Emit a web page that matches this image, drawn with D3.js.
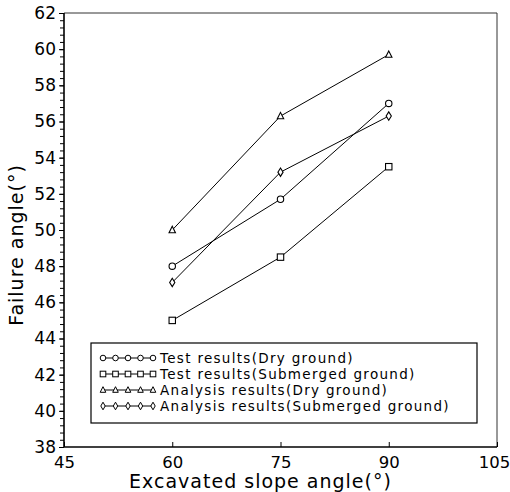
<!DOCTYPE html>
<html>
<head>
<meta charset="utf-8">
<script src="https://cdn.jsdelivr.net/npm/d3@7"></script>
<style>
  body { margin: 0; background: #fff; }
  svg { display: block; font-family: "DejaVu Sans", sans-serif; }
</style>
</head>
<body>
<div class="svg-container"></div>
<script>
// Data
var slopeAngles = [60, 75, 90];
var testDry = [48.0, 51.7, 57.0];
var testSubmerged = [45.0, 48.5, 53.5];
var analysisDry = [50.0, 56.3, 59.7];
var analysisSubmerged = [47.1, 53.2, 56.3];

var seriesNames = [
    "Test results(Dry ground)",
    "Test results(Submerged ground)",
    "Analysis results(Dry ground)",
    "Analysis results(Submerged ground)"
];
var seriesValues = [testDry, testSubmerged, analysisDry, analysisSubmerged];
var seriesMarkers = ["circle", "square", "triangle", "diamond"];

var xTicks = [45, 60, 75, 90, 105];
var yTicks = [38, 40, 42, 44, 46, 48, 50, 52, 54, 56, 58, 60, 62];

var W = 510, H = 492;
var margin = {top: 13, right: 13, bottom: 45, left: 64},
    width = W - margin.left - margin.right,
    height = H - margin.top - margin.bottom;

var svg = d3.select(".svg-container").append("svg")
    .attr("width", W)
    .attr("height", H);

var g = svg.append("g")
    .attr("transform", "translate(" + margin.left + "," + margin.top + ")");

// Scales
var xScale = d3.scaleLinear().domain([45, 105]).range([0, width]);
var yScale = d3.scaleLinear().domain([38, 62]).range([height, 0]);

// Frame (top and right)
g.append("path")
    .attr("d", "M0,0H" + width + "V" + height)
    .attr("fill", "none")
    .attr("stroke", "#333")
    .attr("stroke-width", 1);

// Y axis: minor ticks
var yMinor = d3.range(38, 62.001, 0.4);
g.append("g")
    .call(d3.axisLeft(yScale).tickValues(yMinor).tickSize(4).tickFormat(""))
    .call(function(a) { a.select(".domain").remove(); })
    .selectAll("line").attr("stroke", "#000").attr("stroke-width", 1);

// Y axis: major
var yAxisG = g.append("g")
    .call(d3.axisLeft(yScale).tickValues(yTicks).tickSize(5).tickPadding(3).tickFormat(d3.format("d")));
yAxisG.select(".domain").attr("stroke-width", 1.6).attr("d", "M0,0V" + height);
yAxisG.selectAll("text")
    .style("font-size", "17px")
    .style("font-family", "'DejaVu Sans', sans-serif")
    .attr("fill", "#000");

// X axis (ticks pointing inward)
var xAxisG = g.append("g")
    .attr("transform", "translate(0," + height + ")")
    .call(d3.axisBottom(xScale).tickValues(xTicks).tickSize(-5).tickPadding(9).tickFormat(d3.format("d")));
xAxisG.select(".domain").attr("stroke-width", 1.6).attr("d", "M0,0H" + width);
xAxisG.selectAll("text")
    .style("font-size", "16.5px")
    .style("font-family", "'DejaVu Sans', sans-serif")
    .attr("fill", "#000")
    .attr("dx", function(d) { return d === 105 ? -3 : 0; });

// Axis titles
svg.append("text")
    .attr("x", margin.left + xScale(75) - 20)
    .attr("y", 488)
    .attr("text-anchor", "middle")
    .style("font-size", "19px")
    .style("letter-spacing", "1px")
    .text("Excavated slope angle(°)");

svg.append("text")
    .attr("transform", "translate(23," + 245 + ") rotate(-90)")
    .attr("text-anchor", "middle")
    .style("font-size", "19px")
    .style("letter-spacing", "1px")
    .text("Failure angle(°)");

// Marker drawing
function drawMarker(sel, type, x, y, s) {
    if (type === "circle") {
        sel.append("circle").attr("cx", x).attr("cy", y).attr("r", s);
    } else if (type === "square") {
        sel.append("rect").attr("x", x - s).attr("y", y - s).attr("width", 2 * s).attr("height", 2 * s);
    } else if (type === "triangle") {
        sel.append("path").attr("d", "M" + x + "," + (y - s - 0.5) + "L" + (x + s) + "," + (y + s - 0.5) + "L" + (x - s) + "," + (y + s - 0.5) + "Z");
    } else {
        sel.append("path").attr("d", "M" + x + "," + (y - s - 1) + "L" + (x + s - 0.6) + "," + y + "L" + x + "," + (y + s + 1) + "L" + (x - s + 0.6) + "," + y + "Z");
    }
}

var line = d3.line()
    .x(function(d) { return xScale(d.x); })
    .y(function(d) { return yScale(d.y); });

seriesValues.forEach(function(vals, i) {
    var pts = slopeAngles.map(function(a, j) { return {x: a, y: vals[j]}; });
    g.append("path")
        .datum(pts)
        .attr("d", line)
        .attr("fill", "none")
        .attr("stroke", "#000")
        .attr("stroke-width", 1);
    var mg = g.append("g").attr("fill", "#fff").attr("stroke", "#000").attr("stroke-width", 1.1);
    pts.forEach(function(p) {
        drawMarker(mg, seriesMarkers[i], xScale(p.x), yScale(p.y), 3.2);
    });
});

// Legend
var lx = 91 - margin.left, ly = 343 - margin.top, lw = 386, lh = 80;
var legend = g.append("g");
legend.append("rect")
    .attr("x", lx).attr("y", ly).attr("width", lw).attr("height", lh)
    .attr("fill", "#fff").attr("stroke", "#000").attr("stroke-width", 1.2);

seriesNames.forEach(function(name, i) {
    var yy = ly + 15 + i * 16;
    var x0 = lx + 12, x1 = lx + 62;
    legend.append("line")
        .attr("x1", x0).attr("x2", x1).attr("y1", yy).attr("y2", yy)
        .attr("stroke", "#000").attr("stroke-width", 1);
    var mg = legend.append("g").attr("fill", "#fff").attr("stroke", "#000").attr("stroke-width", 1);
    for (var k = 0; k < 5; k++) {
        drawMarker(mg, seriesMarkers[i], x0 + k * (x1 - x0) / 4, yy, 2.8);
    }
    legend.append("text")
        .attr("x", lx + 69)
        .attr("y", yy + 5)
        .style("font-size", "13.5px")
        .style("letter-spacing", "1.3px")
        .text(name);
});
</script>
</body>
</html>
